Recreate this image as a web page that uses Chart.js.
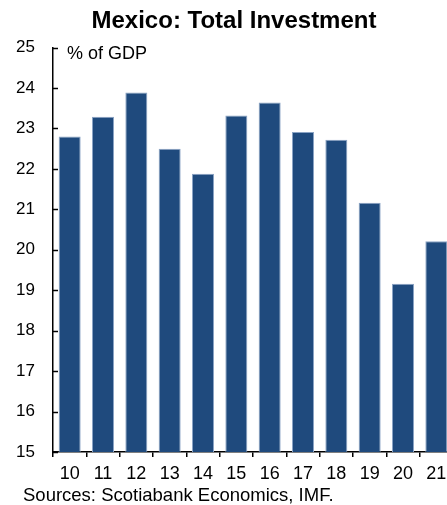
<!DOCTYPE html>
<html>
<head>
<meta charset="utf-8">
<script src="https://cdn.jsdelivr.net/npm/chart.js@4/dist/chart.umd.min.js"></script>
<style>
  html, body { margin: 0; padding: 0; background: #fff; }
  #wrap { position: relative; width: 447px; height: 505px; overflow: hidden; font-family: "Liberation Sans", Arial, sans-serif; color: #000; }
  #c { position: absolute; left: 0; top: 0; }
  .txt { position: absolute; white-space: nowrap; }
  #title { left: 0; width: 468px; text-align: center; top: 8px; font-size: 24px; line-height: 24px; font-weight: bold; }
  #unit { left: 67px; top: 44px; font-size: 18px; line-height: 18px; }
  #src { left: 23px; top: 486px; font-size: 18.5px; line-height: 18.5px; }
</style>
</head>
<body>
<div id="wrap">
  <canvas id="c" width="468" height="505"></canvas>
  <div class="txt" id="title">Mexico: Total Investment</div>
  <div class="txt" id="unit">% of GDP</div>
  <div class="txt" id="src">Sources: Scotiabank Economics, IMF.</div>
</div>
<script>
// Years (2010–2021) and gross investment as a share of GDP
const years = ["10", "11", "12", "13", "14", "15", "16", "17", "18", "19", "20", "21"];
const investment = [22.80, 23.29, 23.89, 22.50, 21.88, 23.32, 23.64, 22.91, 22.72, 21.16, 19.16, 20.21];
const yMin = 15;
const yMax = 25;

const FONT = '"Liberation Sans", Arial, sans-serif';

// Short tick marks pointing into the plot from the left axis
const inwardYTicks = {
  id: 'inwardYTicks',
  afterDatasetsDraw(chart) {
    const y = chart.scales.y;
    const left = chart.chartArea.left;
    const ctx = chart.ctx;
    ctx.save();
    ctx.strokeStyle = '#000';
    ctx.lineWidth = 1.5;
    y.ticks.forEach((t, i) => {
      const py = Math.round(y.getPixelForTick(i)) + 0.5;
      ctx.beginPath();
      ctx.moveTo(left, py);
      ctx.lineTo(left + 5, py);
      ctx.stroke();
    });
    ctx.restore();
  }
};

new Chart(document.getElementById('c'), {
  type: 'bar',
  data: {
    labels: years,
    datasets: [{
      data: investment,
      backgroundColor: '#1f4a7d',
      borderColor: '#8aa3c4',
      borderWidth: 1,
      borderSkipped: 'bottom',
      categoryPercentage: 1,
      barPercentage: 0.66
    }]
  },
  options: {
    responsive: false,
    animation: false,
    devicePixelRatio: 1,
    layout: { padding: { top: 47.5, right: 15, left: 0, bottom: 0 } },
    plugins: {
      legend: { display: false },
      title: { display: false },
      tooltip: { enabled: false }
    },
    scales: {
      x: {
        grid: { display: true, drawOnChartArea: false, drawTicks: true, tickLength: 5, color: '#000', lineWidth: 1.5, offset: true },
        border: { display: true, color: '#000', width: 1.5 },
        ticks: { color: '#000', font: { family: FONT, size: 18 }, padding: 6, maxRotation: 0 },
        afterFit(s) { s.height = 53; }
      },
      y: {
        min: yMin,
        max: yMax,
        grid: { display: true, drawOnChartArea: false, drawTicks: false },
        border: { display: true, color: '#000', width: 1.5 },
        ticks: { stepSize: 1, color: '#000', font: { family: FONT, size: 17 }, padding: 18 },
        afterFit(s) { s.width = 53; }
      }
    }
  },
  plugins: [inwardYTicks]
});
</script>
</body>
</html>
